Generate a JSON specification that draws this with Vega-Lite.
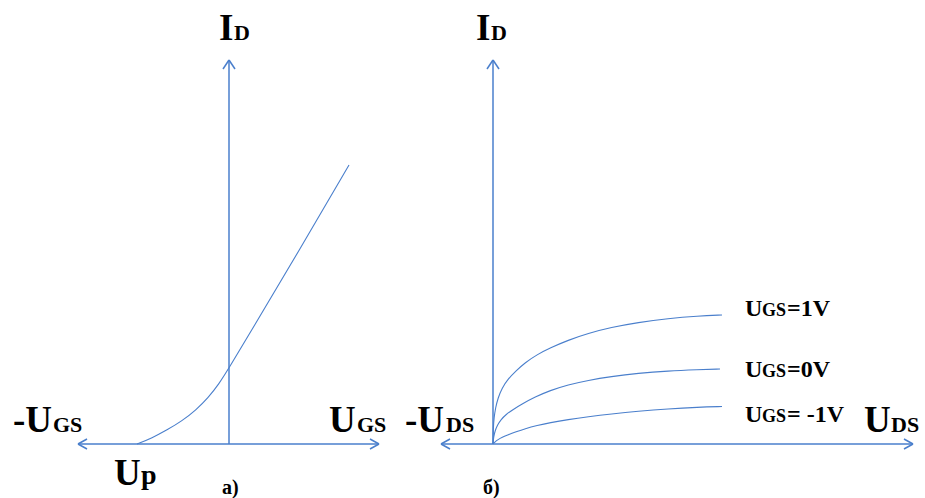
{
  "$schema": "https://vega.github.io/schema/vega-lite/v6.json",
  "width": 925,
  "height": 498,
  "padding": 0,
  "autosize": {"type": "fit", "contains": "padding"},
  "background": "white",
  "config": {"view": {"stroke": null}},
  "datasets": {
    "axes": [
      {"x": 78, "y": 54, "x2": 379, "y2": 54},
      {"x": 229, "y": 54, "x2": 229, "y2": 438},
      {"x": 229, "y": 438, "x2": 223, "y2": 429},
      {"x": 229, "y": 438, "x2": 235, "y2": 429},
      {"x": 78, "y": 54, "x2": 87, "y2": 59},
      {"x": 78, "y": 54, "x2": 87, "y2": 49},
      {"x": 379, "y": 54, "x2": 370, "y2": 59},
      {"x": 379, "y": 54, "x2": 370, "y2": 49},
      {"x": 441, "y": 54, "x2": 913, "y2": 54},
      {"x": 493, "y": 54, "x2": 493, "y2": 438},
      {"x": 493, "y": 438, "x2": 487, "y2": 429},
      {"x": 493, "y": 438, "x2": 499, "y2": 429},
      {"x": 441, "y": 54, "x2": 450, "y2": 59},
      {"x": 441, "y": 54, "x2": 450, "y2": 49},
      {"x": 913, "y": 54, "x2": 904, "y2": 59},
      {"x": 913, "y": 54, "x2": 904, "y2": 49}
    ],
    "curves": [
      {"curve": "transfer", "x": 137, "y": 54},
      {"curve": "transfer", "x": 152, "y": 60},
      {"curve": "transfer", "x": 167, "y": 68},
      {"curve": "transfer", "x": 182, "y": 77},
      {"curve": "transfer", "x": 196, "y": 88},
      {"curve": "transfer", "x": 208, "y": 100},
      {"curve": "transfer", "x": 219, "y": 114},
      {"curve": "transfer", "x": 229, "y": 130},
      {"curve": "transfer", "x": 250, "y": 165},
      {"curve": "transfer", "x": 300, "y": 249},
      {"curve": "transfer", "x": 349, "y": 333},
      {"curve": "1V", "x": 493, "y": 54},
      {"curve": "1V", "x": 493.3, "y": 70},
      {"curve": "1V", "x": 494, "y": 80},
      {"curve": "1V", "x": 495.5, "y": 90},
      {"curve": "1V", "x": 498, "y": 100},
      {"curve": "1V", "x": 502, "y": 110},
      {"curve": "1V", "x": 508, "y": 119},
      {"curve": "1V", "x": 516, "y": 127.2},
      {"curve": "1V", "x": 525, "y": 135.3},
      {"curve": "1V", "x": 537, "y": 143.4},
      {"curve": "1V", "x": 550, "y": 150},
      {"curve": "1V", "x": 568, "y": 157.8},
      {"curve": "1V", "x": 588, "y": 164.6},
      {"curve": "1V", "x": 611, "y": 170.6},
      {"curve": "1V", "x": 638, "y": 175.5},
      {"curve": "1V", "x": 668, "y": 179.5},
      {"curve": "1V", "x": 698, "y": 182},
      {"curve": "1V", "x": 722, "y": 183},
      {"curve": "0V", "x": 493, "y": 54},
      {"curve": "0V", "x": 493.6, "y": 61},
      {"curve": "0V", "x": 495, "y": 67},
      {"curve": "0V", "x": 497.5, "y": 73},
      {"curve": "0V", "x": 501, "y": 78.5},
      {"curve": "0V", "x": 506, "y": 83.5},
      {"curve": "0V", "x": 513, "y": 88.5},
      {"curve": "0V", "x": 522, "y": 94},
      {"curve": "0V", "x": 535, "y": 101},
      {"curve": "0V", "x": 550, "y": 107.5},
      {"curve": "0V", "x": 568, "y": 113.2},
      {"curve": "0V", "x": 588, "y": 117.7},
      {"curve": "0V", "x": 611, "y": 121.5},
      {"curve": "0V", "x": 638, "y": 124.8},
      {"curve": "0V", "x": 668, "y": 127.1},
      {"curve": "0V", "x": 698, "y": 128.3},
      {"curve": "0V", "x": 720, "y": 129},
      {"curve": "-1V", "x": 493, "y": 54},
      {"curve": "-1V", "x": 495, "y": 56.2},
      {"curve": "-1V", "x": 498, "y": 58.4},
      {"curve": "-1V", "x": 502, "y": 60.6},
      {"curve": "-1V", "x": 508, "y": 63.2},
      {"curve": "-1V", "x": 516, "y": 66.2},
      {"curve": "-1V", "x": 525, "y": 69.3},
      {"curve": "-1V", "x": 537, "y": 72.5},
      {"curve": "-1V", "x": 550, "y": 75.3},
      {"curve": "-1V", "x": 568, "y": 78.4},
      {"curve": "-1V", "x": 588, "y": 81.2},
      {"curve": "-1V", "x": 611, "y": 84},
      {"curve": "-1V", "x": 638, "y": 86.8},
      {"curve": "-1V", "x": 668, "y": 89.2},
      {"curve": "-1V", "x": 698, "y": 90.8},
      {"curve": "-1V", "x": 722, "y": 91.5}
    ],
    "bigText": [
      {"t": "I", "x": 219, "y": 458},
      {"t": "I", "x": 476, "y": 458},
      {"t": "-U", "x": 13, "y": 66},
      {"t": "U", "x": 329, "y": 66},
      {"t": "-U", "x": 405, "y": 66},
      {"t": "U", "x": 864, "y": 66},
      {"t": "U", "x": 114, "y": 13}
    ],
    "subText": [
      {"t": "D", "x": 234, "y": 458},
      {"t": "D", "x": 491, "y": 458},
      {"t": "GS", "x": 53, "y": 66},
      {"t": "GS", "x": 357, "y": 66},
      {"t": "DS", "x": 446, "y": 66},
      {"t": "DS", "x": 891, "y": 66}
    ],
    "pText": [
      {"t": "p", "x": 141, "y": 14}
    ],
    "captionText": [
      {"t": "а)", "x": 222, "y": 4},
      {"t": "б)", "x": 483, "y": 4}
    ],
    "labelBig": [
      {"t": "U", "x": 745, "y": 182},
      {"t": "=1V", "x": 787, "y": 182},
      {"t": "U", "x": 745, "y": 121},
      {"t": "=0V", "x": 787, "y": 121},
      {"t": "U", "x": 745, "y": 76},
      {"t": "= -1V", "x": 787, "y": 76}
    ],
    "labelSmall": [
      {"t": "GS", "x": 762, "y": 182},
      {"t": "GS", "x": 762, "y": 121},
      {"t": "GS", "x": 762, "y": 76}
    ]
  },
  "layer": [
    {
      "data": {"name": "axes"},
      "mark": {"type": "rule", "color": "#4a7fcc", "strokeWidth": 1.5},
      "encoding": {
        "x": {"field": "x", "type": "quantitative", "scale": {"domain": [0, 925], "nice": false, "zero": false}, "axis": null},
        "y": {"field": "y", "type": "quantitative", "scale": {"domain": [0, 498], "nice": false, "zero": false}, "axis": null},
        "x2": {"field": "x2"},
        "y2": {"field": "y2"}
      }
    },
    {
      "data": {"name": "curves"},
      "mark": {"type": "line", "color": "#4a7fcc", "strokeWidth": 1.1, "interpolate": "basis"},
      "encoding": {
        "x": {"field": "x", "type": "quantitative"},
        "y": {"field": "y", "type": "quantitative"},
        "detail": {"field": "curve"}
      }
    },
    {
      "data": {"name": "bigText"},
      "mark": {"type": "text", "font": "Liberation Serif", "fontWeight": "bold", "fontSize": 37, "align": "left", "baseline": "alphabetic", "color": "black"},
      "encoding": {
        "x": {"field": "x", "type": "quantitative"},
        "y": {"field": "y", "type": "quantitative"},
        "text": {"field": "t"}
      }
    },
    {
      "data": {"name": "subText"},
      "mark": {"type": "text", "font": "Liberation Serif", "fontWeight": "bold", "fontSize": 22, "align": "left", "baseline": "alphabetic", "color": "black"},
      "encoding": {
        "x": {"field": "x", "type": "quantitative"},
        "y": {"field": "y", "type": "quantitative"},
        "text": {"field": "t"}
      }
    },
    {
      "data": {"name": "pText"},
      "mark": {"type": "text", "font": "Liberation Serif", "fontWeight": "bold", "fontSize": 28, "align": "left", "baseline": "alphabetic", "color": "black"},
      "encoding": {
        "x": {"field": "x", "type": "quantitative"},
        "y": {"field": "y", "type": "quantitative"},
        "text": {"field": "t"}
      }
    },
    {
      "data": {"name": "captionText"},
      "mark": {"type": "text", "font": "Liberation Serif", "fontWeight": "bold", "fontSize": 20, "align": "left", "baseline": "alphabetic", "color": "black"},
      "encoding": {
        "x": {"field": "x", "type": "quantitative"},
        "y": {"field": "y", "type": "quantitative"},
        "text": {"field": "t"}
      }
    },
    {
      "data": {"name": "labelBig"},
      "mark": {"type": "text", "font": "Liberation Serif", "fontWeight": "bold", "fontSize": 24, "align": "left", "baseline": "alphabetic", "color": "black"},
      "encoding": {
        "x": {"field": "x", "type": "quantitative"},
        "y": {"field": "y", "type": "quantitative"},
        "text": {"field": "t"}
      }
    },
    {
      "data": {"name": "labelSmall"},
      "mark": {"type": "text", "font": "Liberation Serif", "fontWeight": "bold", "fontSize": 18, "align": "left", "baseline": "alphabetic", "color": "black"},
      "encoding": {
        "x": {"field": "x", "type": "quantitative"},
        "y": {"field": "y", "type": "quantitative"},
        "text": {"field": "t"}
      }
    }
  ]
}
